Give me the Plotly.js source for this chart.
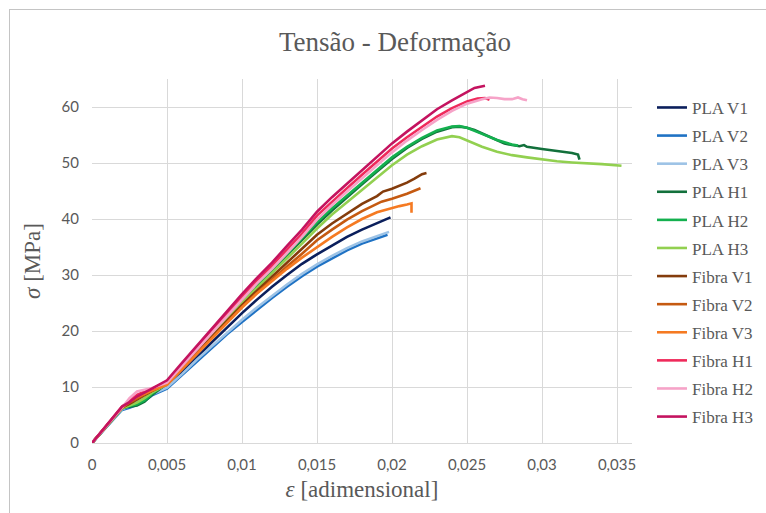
<!DOCTYPE html>
<html>
<head>
<meta charset="utf-8">
<script src="https://cdn.plot.ly/plotly-3.0.1.min.js"></script>
<style>
  html, body { margin:0; padding:0; background:#fff; }
  #wrap { position:relative; width:766px; height:513px; overflow:hidden; }
  #chart { position:absolute; left:0; top:0; width:766px; height:513px; }
  #frame { position:absolute; left:9px; top:9px; right:-2px; bottom:-2px;
           border-left:1px solid #c4c4c4; border-top:1px solid #c4c4c4; pointer-events:none; }
</style>
</head>
<body>
<div id="wrap"><div id="chart"></div><div id="frame"></div></div>
<script>
// ---- data (strain [-], stress [MPa]) ----
const seriesNames = ['PLA V1','PLA V2','PLA V3','PLA H1','PLA H2','PLA H3',
                     'Fibra V1','Fibra V2','Fibra V3','Fibra H1','Fibra H2','Fibra H3'];

const plaV1_x = [0,.001,.002,.0025,.003,.0035,.004,.005,.006,.007,.008,.009,.010,.011,.012,.013,.014,.015,.016,.017,.018,.019,.0199];
const plaV1_y = [0,3.0,6.1,6.5,7.0,7.8,8.8,10.0,12.6,15.3,18.0,20.6,23.2,25.6,27.9,30.0,32.0,33.7,35.3,36.8,38.1,39.3,40.3];

const plaV2_x = [0,.001,.002,.0025,.003,.0035,.004,.005,.006,.007,.008,.009,.010,.011,.012,.013,.014,.015,.016,.017,.018,.019,.0197];
const plaV2_y = [0,2.9,5.9,6.3,6.8,7.5,8.5,9.7,12.1,14.6,17.0,19.4,21.6,23.8,25.9,27.9,29.8,31.5,33.0,34.4,35.6,36.6,37.2];

const plaV3_x = [0,.001,.002,.0025,.003,.0035,.004,.005,.006,.007,.008,.009,.010,.011,.012,.013,.014,.015,.016,.017,.018,.019,.0198];
const plaV3_y = [0,3.0,6.0,6.6,7.2,7.9,8.7,9.9,12.3,14.9,17.3,19.7,22.0,24.2,26.3,28.3,30.2,31.9,33.4,34.8,36.0,37.0,37.7];

const plaH1_x = [0,.001,.002,.0025,.003,.0035,.004,.005,.006,.007,.008,.009,.010,.011,.012,.013,.014,.015,.016,.017,.018,.019,.020,
                 .021,.022,.023,.024,.0245,.025,.0255,.026,.0265,.027,.0275,.028,.0285,.0288,.029,.030,.031,.032,.0324,.0325];
const plaH1_y = [0,3.0,6.2,6.5,6.7,7.4,8.6,10.6,13.5,16.5,19.5,22.4,25.3,28.1,30.8,33.5,36.3,39.0,41.5,43.9,46.2,48.5,50.7,
                 52.7,54.3,55.6,56.4,56.5,56.3,55.9,55.3,54.6,54.0,53.5,53.2,53.0,53.2,52.9,52.5,52.1,51.8,51.5,50.6];

const plaH2_x = [0,.001,.002,.0025,.003,.0035,.004,.005,.006,.007,.008,.009,.010,.011,.012,.013,.014,.015,.016,.017,.018,.019,.020,
                 .021,.022,.023,.024,.0245,.025,.026,.027,.028,.0284];
const plaH2_y = [0,3.0,6.2,6.6,6.9,7.6,8.8,10.7,13.7,16.7,19.7,22.6,25.5,28.3,31.0,33.7,36.6,39.4,41.9,44.2,46.5,48.8,51.0,
                 52.9,54.5,55.8,56.5,56.6,56.3,55.2,54.1,53.3,53.1];

const plaH3_x = [0,.001,.002,.0025,.003,.0035,.004,.005,.006,.007,.008,.009,.010,.011,.012,.013,.014,.015,.016,.017,.018,.019,.020,
                 .021,.022,.023,.024,.0245,.025,.026,.027,.028,.029,.030,.031,.032,.033,.034,.0353];
const plaH3_y = [0,3.0,6.2,6.7,7.2,8.0,9.0,10.5,13.4,16.3,19.2,22.1,25.0,27.7,30.3,32.9,35.6,38.3,40.8,43.0,45.2,47.4,49.6,
                 51.5,53.0,54.2,54.8,54.6,54.0,52.9,52.0,51.4,51.0,50.6,50.3,50.1,50.0,49.8,49.5];

const fibV1_x = [0,.001,.002,.0025,.003,.0035,.004,.005,.006,.007,.008,.009,.010,.011,.012,.013,.014,.015,.016,.017,.018,.019,
                 .0194,.020,.021,.0215,.022,.0223];
const fibV1_y = [0,3.1,6.3,7.0,7.8,8.6,9.3,10.6,13.4,16.2,19.0,21.8,24.6,27.2,29.7,32.1,34.6,37.2,39.2,41.0,42.7,44.1,
                 44.9,45.4,46.5,47.2,48.0,48.2];

const fibV2_x = [0,.001,.002,.0025,.003,.0035,.004,.005,.006,.007,.008,.009,.010,.011,.012,.013,.014,.015,.016,.017,.018,.019,
                 .0193,.020,.021,.0219];
const fibV2_y = [0,3.1,6.3,7.2,8.0,8.7,9.3,10.5,13.2,16.0,18.8,21.6,24.3,26.8,29.2,31.5,33.8,36.2,38.1,39.9,41.4,42.6,
                 43.1,43.6,44.5,45.5];

const fibV3_x = [0,.001,.002,.0025,.003,.0035,.004,.005,.006,.007,.008,.009,.010,.011,.012,.013,.014,.015,.016,.017,.018,.019,
                 .020,.0205,.021,.0213,.0213];
const fibV3_y = [0,3.1,6.3,7.4,8.2,8.8,9.4,10.4,13.1,15.9,18.7,21.5,24.2,26.7,28.9,31.1,33.1,35.0,36.8,38.5,40.0,41.2,
                 42.0,42.3,42.6,42.8,41.1];

const fibH1_x = [0,.001,.002,.0025,.003,.0035,.004,.005,.006,.007,.008,.009,.010,.011,.012,.013,.014,.015,.016,.017,.018,.019,.020,
                 .021,.022,.023,.024,.025,.0257,.0262,.0265];
const fibH1_y = [0,3.2,6.5,7.5,8.6,9.2,9.7,11.0,14.0,17.0,20.1,23.1,26.0,29.0,31.7,34.5,37.4,40.6,43.1,45.5,47.9,50.3,52.6,
                 54.6,56.5,58.3,59.8,61.0,61.5,61.6,61.3];

const fibH2_x = [0,.001,.002,.0025,.003,.0035,.004,.005,.006,.007,.008,.009,.010,.011,.012,.013,.014,.015,.016,.017,.018,.019,.020,
                 .021,.022,.023,.024,.025,.026,.0265,.027,.0275,.028,.0284,.0287,.029];
const fibH2_y = [0,3.1,6.3,8.0,9.2,9.5,9.8,10.8,13.8,16.8,19.8,22.7,25.6,28.5,31.1,33.9,36.8,39.9,42.5,44.9,47.3,49.6,51.9,
                 54.0,55.9,57.7,59.3,60.6,61.4,61.7,61.6,61.4,61.4,61.7,61.4,61.2];

const fibH3_x = [0,.001,.002,.0025,.003,.0035,.004,.005,.006,.007,.008,.009,.010,.011,.012,.013,.014,.015,.016,.017,.018,.019,.020,
                 .021,.022,.0225,.023,.024,.025,.0255,.0262];
const fibH3_y = [0,3.2,6.5,7.3,8.3,9.0,9.7,11.2,14.3,17.4,20.5,23.6,26.6,29.5,32.2,35.2,38.1,41.3,43.9,46.3,48.7,51.1,53.5,
                 55.6,57.6,58.6,59.6,61.2,62.6,63.4,63.8];

const seriesColors = ['#0b1f5c','#1f72c4','#9dc3e6','#12703b','#14b04f','#92d050',
                      '#843c0c','#c55a11','#f57a22','#ef2a5b','#f6a3c8','#c4135f'];

const xTickLabels = ['0','0,005','0,01','0,015','0,02','0,025','0,03','0,035'];
const xTickVals = [0,0.005,0.01,0.015,0.02,0.025,0.03,0.035];

// ---- build traces ----
const xs = [plaV1_x,plaV2_x,plaV3_x,plaH1_x,plaH2_x,plaH3_x,fibV1_x,fibV2_x,fibV3_x,fibH1_x,fibH2_x,fibH3_x];
const ys = [plaV1_y,plaV2_y,plaV3_y,plaH1_y,plaH2_y,plaH3_y,fibV1_y,fibV2_y,fibV3_y,fibH1_y,fibH2_y,fibH3_y];

const traces = seriesNames.map((n, i) => ({
  type: 'scatter', mode: 'lines', name: n,
  x: xs[i], y: ys[i],
  legendgroup: 'g' + i,
  line: { color: seriesColors[i], width: 2.6 }
}));

const grid = '#d9d9d9';
const tickFont = { family: 'Lato, "Open Sans", sans-serif', size: 15, color: '#595959' };
const serif = 'Liberation Serif, "DejaVu Serif", serif';

const layout = {
  width: 766, height: 513,
  margin: { l: 92, r: 134, t: 79, b: 70, autoexpand: false },
  paper_bgcolor: '#ffffff', plot_bgcolor: '#ffffff',
  separators: ',.',
  showlegend: true,
  title: {
    text: 'Tensão - Deformação',
    font: { family: serif, size: 27, color: '#595959' },
    x: 395 / 766, xref: 'container', xanchor: 'center',
    y: 1 - 42 / 513, yref: 'container', yanchor: 'middle'
  },
  xaxis: {
    range: [0, 0.036], tickvals: xTickVals, ticktext: xTickLabels,
    showgrid: true, gridcolor: grid, gridwidth: 1,
    zeroline: false, showline: true, linecolor: grid, linewidth: 1,
    ticks: '', tickfont: tickFont, ticklabelstandoff: 8,
    fixedrange: true,
    title: { text: '<i>ε</i> [adimensional]', font: { family: serif, size: 23, color: '#595959' }, standoff: 8 }
  },
  yaxis: {
    range: [0, 65], dtick: 10, tick0: 0,
    showgrid: true, gridcolor: grid, gridwidth: 1,
    zeroline: false, showline: false,
    ticks: '', tickfont: tickFont, ticklabelstandoff: 12,
    fixedrange: true,
    title: { text: '<i>σ</i> [MPa]', font: { family: serif, size: 23, color: '#595959' }, standoff: 14 }
  },
  legend: {
    x: 1.037, xanchor: 'left', y: 0.97, yanchor: 'top',
    font: { family: serif, size: 17, color: '#595959' },
    bgcolor: 'rgba(0,0,0,0)', borderwidth: 0,
    traceorder: 'grouped', tracegroupgap: 3, itemwidth: 30
  }
};

Plotly.newPlot('chart', traces, layout, { displayModeBar: false, staticPlot: true });
</script>
</body>
</html>
